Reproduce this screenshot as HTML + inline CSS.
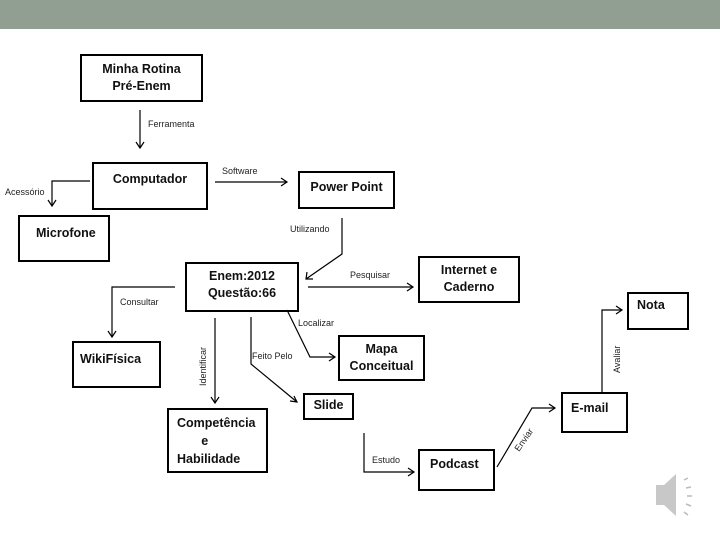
<!DOCTYPE html>
<html><head><meta charset="utf-8"><style>
body{margin:0;width:720px;height:540px;background:#fff;position:relative;overflow:hidden;font-family:"Liberation Sans",sans-serif}
.bar{position:absolute;left:0;top:0;width:720px;height:29px;background:#919f93}
.b{position:absolute;border:2.5px solid #000;box-sizing:border-box;font-weight:bold;font-size:12.5px;line-height:17px;text-align:center;color:#111}
svg{position:absolute;left:0;top:0}
</style></head><body>
<div class="bar"></div>
<div class="b" style="left:80px;top:54px;width:123px;height:48px;padding-top:5px">Minha Rotina<br>Pré-Enem</div>
<div class="b" style="left:92px;top:162px;width:116px;height:48px;padding-top:7px">Computador</div>
<div class="b" style="left:298px;top:171px;width:97px;height:38px;padding-top:6px">Power Point</div>
<div class="b" style="left:18px;top:215px;width:92px;height:47px;padding-top:8px;text-align:left;padding-left:16px">Microfone</div>
<div class="b" style="left:185px;top:262px;width:114px;height:50px;padding-top:4px">Enem:2012<br>Questão:66</div>
<div class="b" style="left:418px;top:256px;width:102px;height:47px;padding-top:4px">Internet e<br>Caderno</div>
<div class="b" style="left:627px;top:292px;width:62px;height:38px;padding-top:3px;text-align:left;padding-left:8px">Nota</div>
<div class="b" style="left:338px;top:335px;width:87px;height:46px;padding-top:4px">Mapa<br>Conceitual</div>
<div class="b" style="left:72px;top:341px;width:89px;height:47px;padding-top:8px;text-align:left;padding-left:6px">WikiFísica</div>
<div class="b" style="left:303px;top:393px;width:51px;height:27px;padding-top:2px">Slide</div>
<div class="b" style="left:167px;top:408px;width:101px;height:65px;padding-top:4px;text-align:left;padding-left:8px;line-height:18px">Competência<br>&nbsp;&nbsp;&nbsp;&nbsp;&nbsp;&nbsp;&nbsp;e<br>Habilidade</div>
<div class="b" style="left:561px;top:392px;width:67px;height:41px;padding-top:6px;text-align:left;padding-left:8px">E-mail</div>
<div class="b" style="left:418px;top:449px;width:77px;height:42px;padding-top:5px;text-align:left;padding-left:10px">Podcast</div>
<svg width="720" height="540" fill="none" stroke="#000" stroke-width="1.2" font-family="Liberation Sans, sans-serif" font-size="9">
<g>
<path d="M140 110V148M136 142L140 148L144 142"/>
<path d="M90 181H52V206M48 200L52 206L56 200"/>
<path d="M215 182H287M281 178L287 182L281 186"/>
<path d="M342 218V254L306 279M307 272L306 279L313 279"/>
<path d="M308 287H413M407 283L413 287L407 291"/>
<path d="M175 287H112V337M108 331L112 337L116 331"/>
<path d="M215 318V403M211 397L215 403L219 397"/>
<path d="M251 317V364L297 402M290 401L297 402L294 396"/>
<path d="M287 310L310 357H335M329 353L335 357L329 361"/>
<path d="M364 433V472H414M408 468L414 472L408 476"/>
<path d="M497 467L532 408H555M549 404L555 408L549 412"/>
<path d="M602 392V310H622M616 306L622 310L616 314"/>
</g>
<g fill="#222" stroke="none">
<text x="148" y="127">Ferramenta</text>
<text x="5" y="195">Acessório</text>
<text x="222" y="174">Software</text>
<text x="290" y="232">Utilizando</text>
<text x="350" y="278">Pesquisar</text>
<text x="120" y="305">Consultar</text>
<text x="298" y="326">Localizar</text>
<text x="252" y="359">Feito Pelo</text>
<text x="372" y="463">Estudo</text>
<text transform="translate(206,386) rotate(-90)">Identificar</text>
<text transform="translate(519,452) rotate(-55)">Enviar</text>
<text transform="translate(620,373) rotate(-90)">Avaliar</text>
</g>
<g fill="#c8c8c8" stroke="none">
<path d="M656 485H664L676 474V516L664 505H656Z"/>
</g>
<g stroke="#bbb" stroke-width="1.5">
<path d="M684 480L688 478M686 488L691 487M687 496L692 496M686 504L691 506M684 512L688 515"/>
</g>
</svg>
</body></html>
